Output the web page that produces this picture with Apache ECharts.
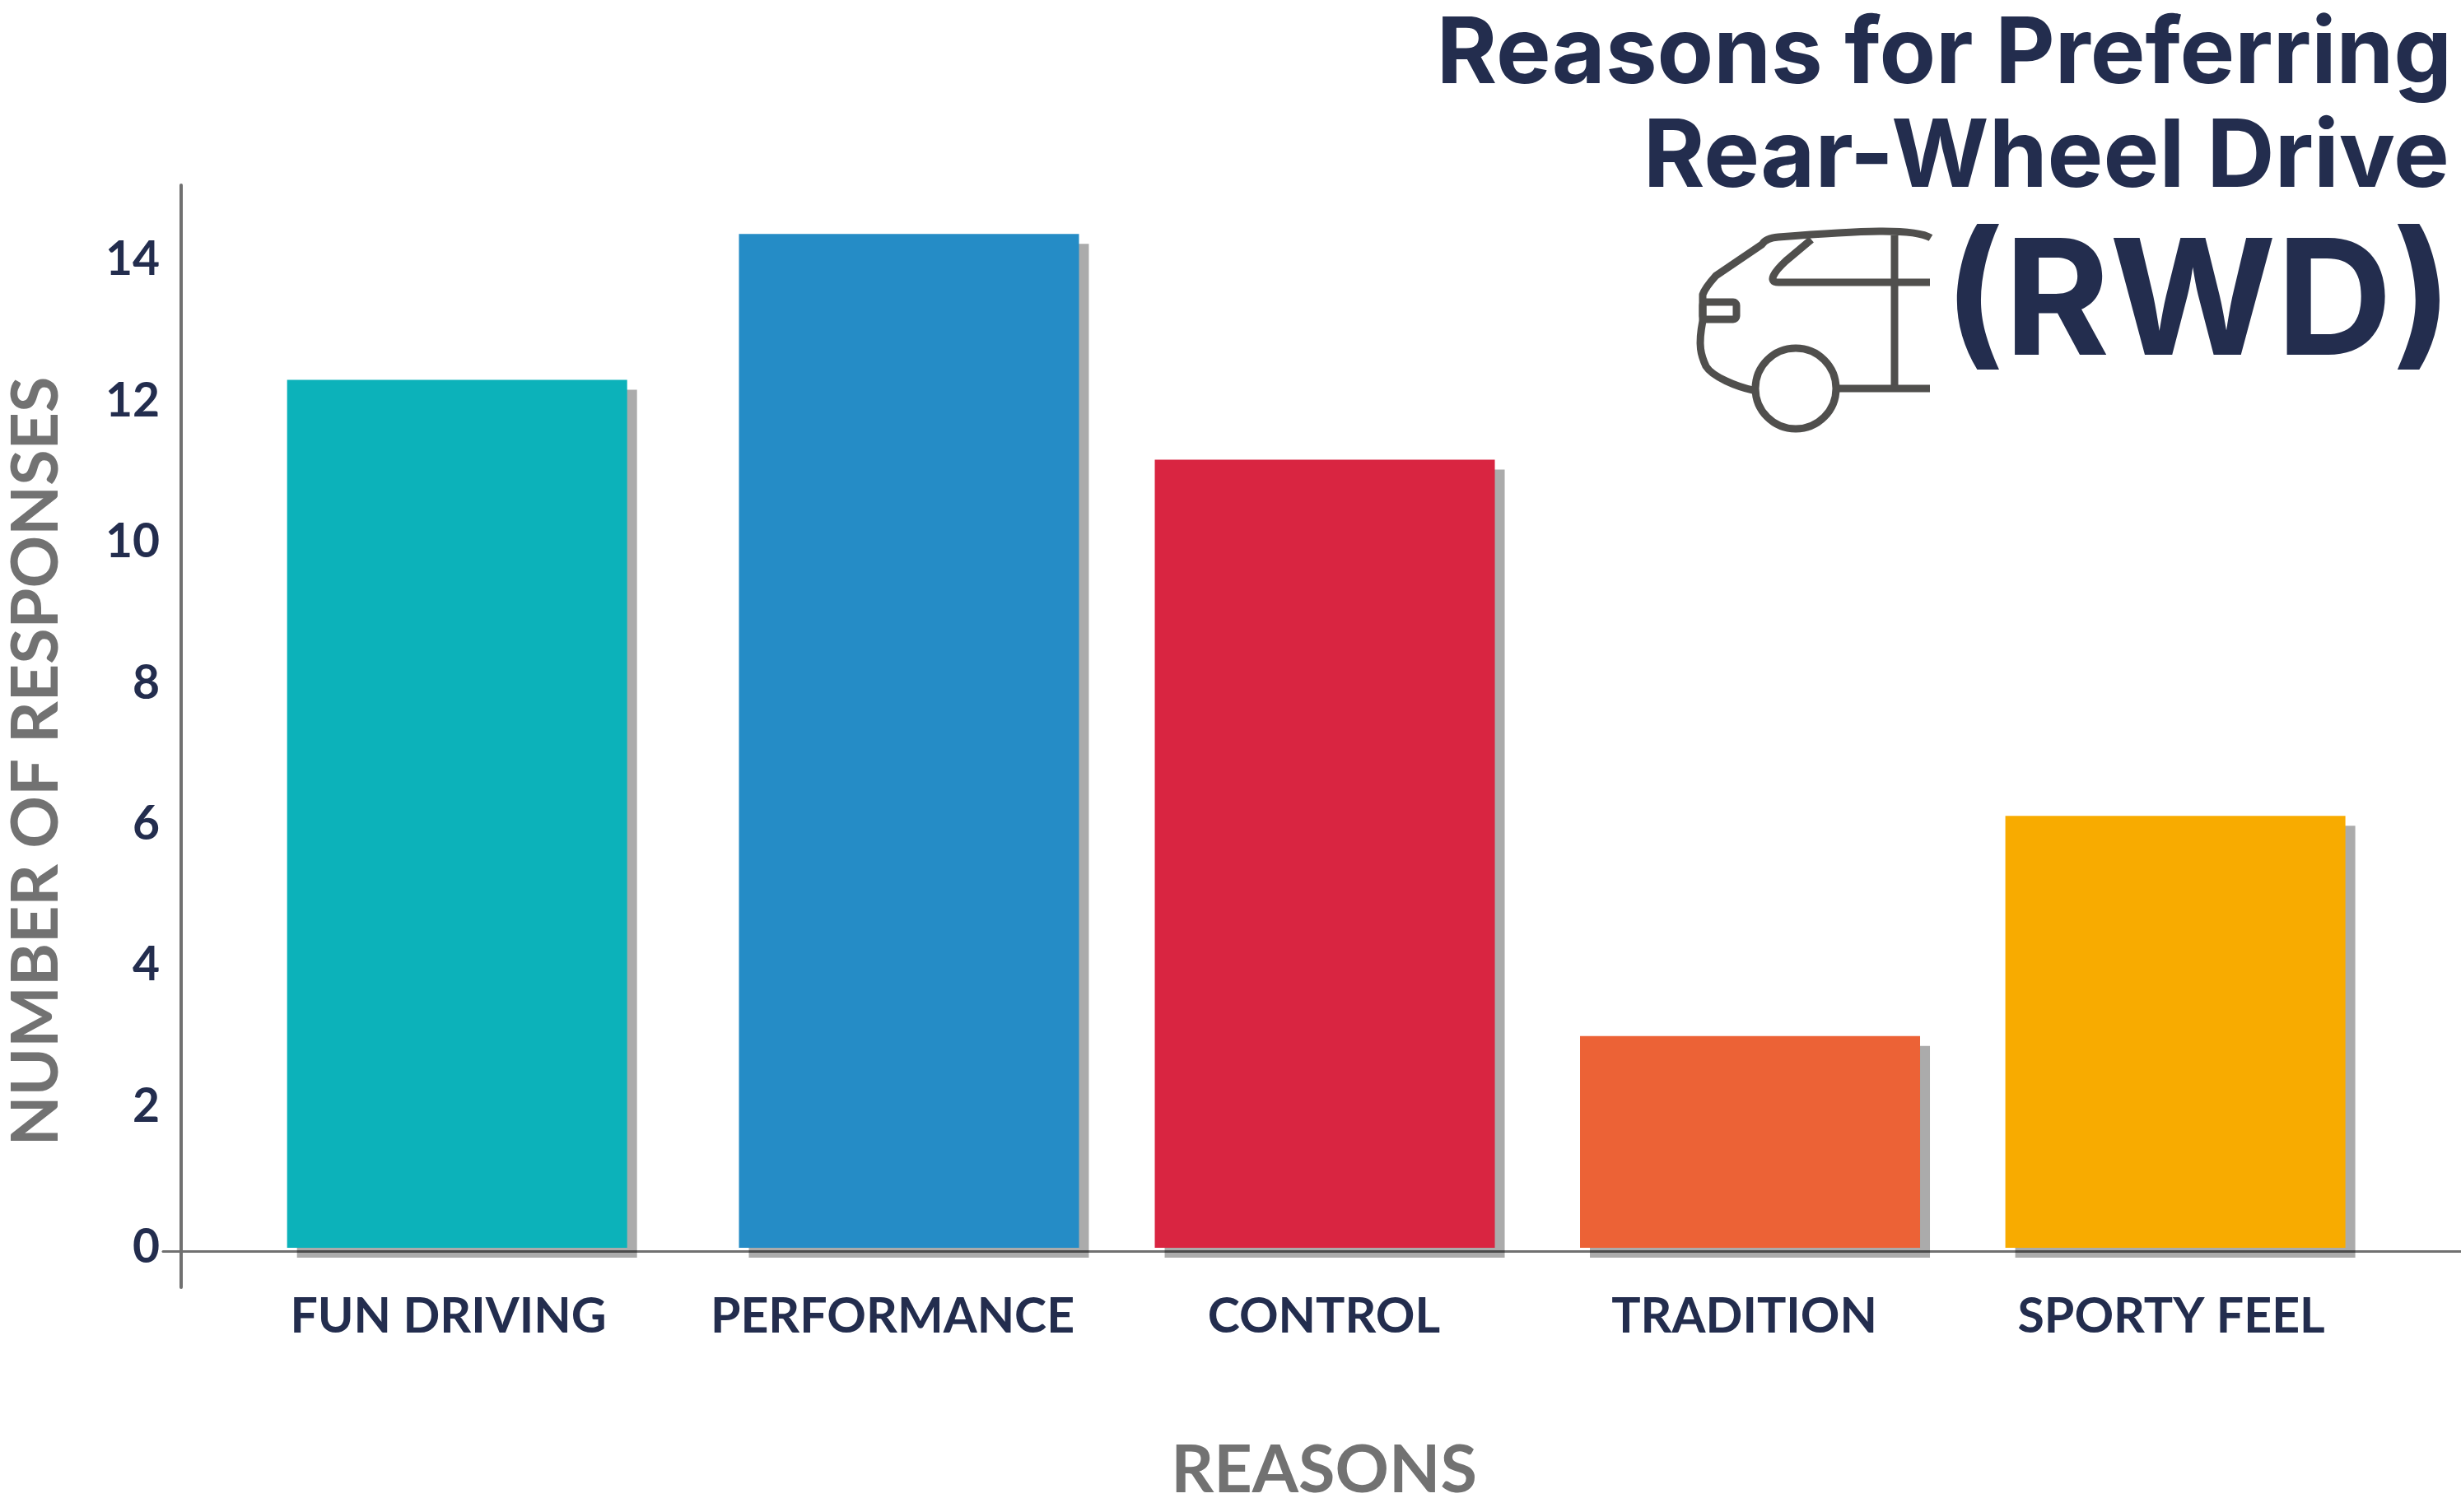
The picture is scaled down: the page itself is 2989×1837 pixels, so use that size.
<!DOCTYPE html>
<html>
<head>
<meta charset="utf-8">
<title>Reasons for Preferring Rear-Wheel Drive (RWD)</title>
<script src="https://cdn.jsdelivr.net/npm/echarts@6/dist/echarts.min.js"></script>
<style>
  html, body { margin: 0; padding: 0; background: #fff; }
  #chart { width: 2989px; height: 1837px; }
</style>
</head>
<body>
<div id="chart"></div>
<script>
const categories = ['FUN DRIVING', 'PERFORMANCE', 'CONTROL', 'TRADITION', 'SPORTY FEEL']
const responses = [12.3, 14.37, 11.17, 3, 6.12]
const barColors = ['#0cb2ba', '#258cc6', '#d92541', '#ec6236', '#f8ab00']
const yTicks = [0, 2, 4, 6, 8, 10, 12, 14]

// the source spaces its bars and labels unevenly, so the x axis is a value axis in slot units
const barSlots = [-0.0245, 1.0318, 2.0039, 2.998, 3.9923]
const labelSlots = [-0.0452, 0.9933, 2.0019, 2.9846, 3.9827]

const navy = '#232d4e'
const grey = '#727272'
const iconColor = '#504f4d'
const labelFont = 'Lato'
const titleFont = 'Inter'

// car outline pieces for the icon by the title
echarts.graphic.registerShape('carBody', echarts.graphic.extendPath('M2345 289 C2325 277 2260 280 2160 288 C2148 289 2143 292 2140 297 L2084 335 C2075 345 2070 352 2068 358 L2068 390 C2062 420 2066 432 2072 445 C2080 458 2110 470 2129 474', {}))
echarts.graphic.registerShape('carWindow', echarts.graphic.extendPath('M2200 291 L2169 317 C2155 330 2146 343 2160 343 L2344 343', {}))

const chart = echarts.init(document.getElementById('chart'), null, { renderer: 'canvas' })

const carStroke = { stroke: iconColor, fill: 'none', lineWidth: 9, lineJoin: 'round', lineCap: 'butt' }

chart.setOption({
  backgroundColor: '#fff',
  animation: false,
  title: [
    {
      text: 'Reasons for Preferring',
      right: 6,
      top: 6,
      textStyle: { fontFamily: titleFont, fontWeight: 700, fontSize: 112, color: navy }
    },
    {
      text: 'Rear-Wheel Drive',
      right: 9,
      top: 131,
      textStyle: { fontFamily: titleFont, fontWeight: 700, fontSize: 114, color: navy }
    },
    {
      text: '(RWD)',
      right: 5,
      top: 270,
      textStyle: { fontFamily: titleFont, fontWeight: 700, fontSize: 195, color: navy }
    }
  ],
  grid: { left: 198, right: 0, top: 225, bottom: 273, outerBoundsMode: 'none' },
  xAxis: {
    type: 'value',
    min: -0.712,
    max: 4.66,
    offset: -44,
    name: 'REASONS',
    nameLocation: 'middle',
    nameGap: 226,
    nameTextStyle: { fontFamily: labelFont, fontWeight: 700, fontSize: 81, color: grey, padding: [0, 0, 0, 29] },
    axisLine: { onZero: false, lineStyle: { color: '#707070', width: 3 } },
    axisTick: { show: false },
    splitLine: { show: false },
    axisLabel: {
      customValues: labelSlots,
      formatter: (value) => categories[labelSlots.indexOf(value)],
      margin: 50,
      fontFamily: labelFont,
      fontWeight: 700,
      fontSize: 59,
      color: navy
    }
  },
  yAxis: {
    type: 'value',
    min: -0.56,
    max: 15.06,
    offset: -22,
    name: 'NUMBER OF RESPONSES',
    nameLocation: 'middle',
    nameRotate: 90,
    nameGap: 136,
    nameTextStyle: { fontFamily: labelFont, fontWeight: 700, fontSize: 79, color: grey, padding: [0, 61, 0, 0] },
    axisLine: { show: true, onZero: false, lineStyle: { color: '#707070', width: 4 } },
    axisTick: { show: false },
    splitLine: { show: false },
    axisLabel: {
      customValues: yTicks,
      margin: 26,
      fontFamily: labelFont,
      fontWeight: 700,
      fontSize: 57,
      color: navy
    }
  },
  series: [
    {
      type: 'bar',
      barWidth: 413,
      clip: false,
      data: responses.map((v, i) => ({ value: [barSlots[i], v], itemStyle: { color: barColors[i] } })),
      itemStyle: {
        shadowColor: 'rgba(0, 0, 0, 0.33)',
        shadowBlur: 0,
        shadowOffsetX: 12,
        shadowOffsetY: 12
      }
    }
  ],
  graphic: [
    { type: 'carBody', silent: true, style: carStroke },
    { type: 'carWindow', silent: true, style: carStroke },
    { type: 'line', silent: true, shape: { x1: 2301, y1: 286, x2: 2301, y2: 472 }, style: carStroke },
    { type: 'line', silent: true, shape: { x1: 2232, y1: 472, x2: 2344, y2: 472 }, style: carStroke },
    { type: 'rect', silent: true, shape: { x: 2068, y: 367, width: 41, height: 21, r: 4 }, style: carStroke },
    { type: 'circle', silent: true, shape: { cx: 2181, cy: 472, r: 49 }, style: carStroke }
  ]
})

window.addEventListener('resize', () => chart.resize())
</script>
</body>
</html>
